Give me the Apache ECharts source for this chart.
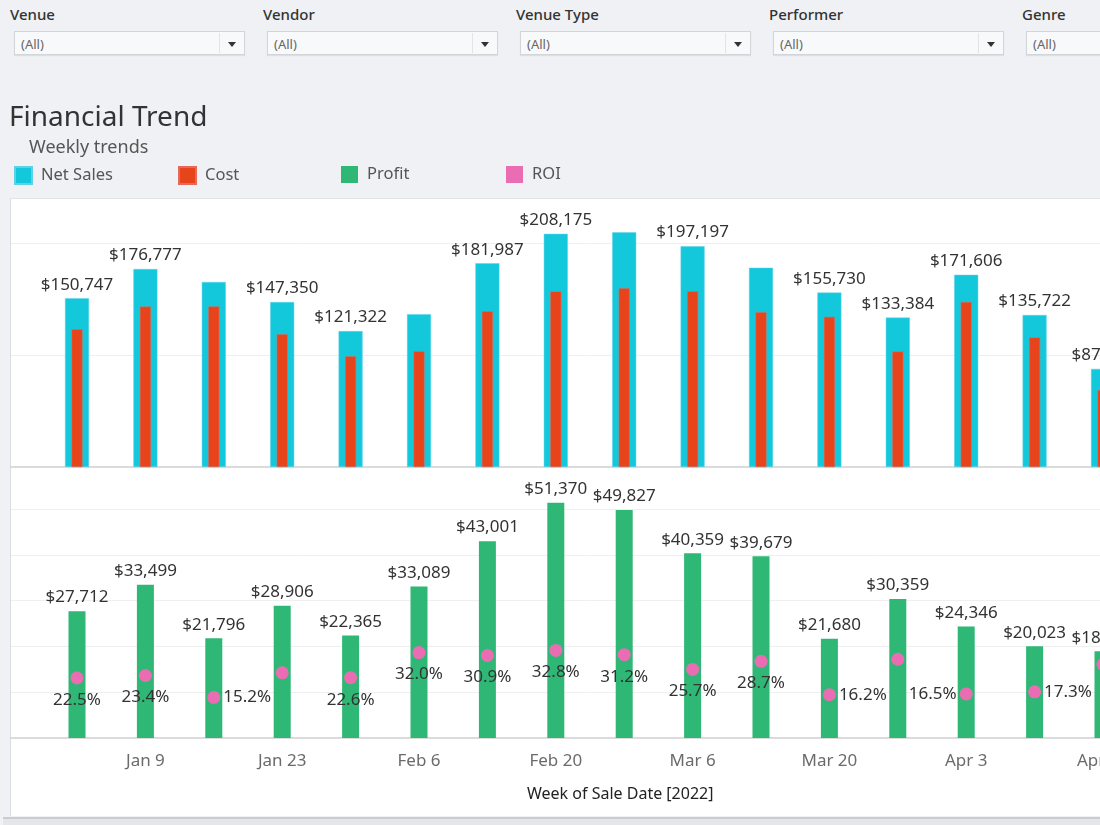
<!DOCTYPE html>
<html>
<head>
<meta charset="utf-8">
<script src="https://cdn.jsdelivr.net/npm/echarts@6/dist/echarts.min.js"></script>
<style>
  html, body { margin: 0; padding: 0; width: 1100px; height: 825px; overflow: hidden; background: #eff1f4; font-family: 'Noto Sans', sans-serif; }
  .flabel { position: absolute; top: 4px; font-size: 15px; color: #333; font-weight: 500; }
  .dd { position: absolute; top: 31px; width: 231px; height: 24px; background: #f8f9fa; border: 1px solid #d3d6d9; box-shadow: 0 1px 1px rgba(0,0,0,0.08); box-sizing: border-box; }
  .dd span { position: absolute; left: 6px; top: 3px; font-size: 13px; color: #666; }
  .dd .div { position: absolute; right: 24px; top: 1px; bottom: 1px; width: 1px; background: #e2e4e6; }
  .dd .arr { position: absolute; right: 8px; top: 10px; width: 0; height: 0; border-left: 4px solid transparent; border-right: 4px solid transparent; border-top: 5px solid #333; }
  #panel { position: absolute; left: 10px; top: 198px; width: 1200px; height: 617px; background: #fff; border-left: 1px solid #d9dde1; border-top: 1px solid #e1e4e7; }
  #scroll { position: absolute; left: 3px; top: 817px; width: 1200px; height: 10px; background: #e4e6e9; border-top: 2px solid #c9cdd1; }
  #chart { position: absolute; left: 0; top: 0; width: 1160px; height: 825px; }
</style>
</head>
<body>
<div class="flabel" style="left:10px">Venue</div>
<div class="dd" style="left:14px"><span>(All)</span><div class="div"></div><div class="arr"></div></div>
<div class="flabel" style="left:263px">Vendor</div>
<div class="dd" style="left:267px"><span>(All)</span><div class="div"></div><div class="arr"></div></div>
<div class="flabel" style="left:516px">Venue Type</div>
<div class="dd" style="left:520px"><span>(All)</span><div class="div"></div><div class="arr"></div></div>
<div class="flabel" style="left:769px">Performer</div>
<div class="dd" style="left:773px"><span>(All)</span><div class="div"></div><div class="arr"></div></div>
<div class="flabel" style="left:1022px">Genre</div>
<div class="dd" style="left:1026px"><span>(All)</span><div class="div"></div><div class="arr"></div></div>
<div id="panel"></div>
<div id="scroll"></div>
<div id="chart"></div>
<script>
const categories = ['Jan 2','Jan 9','Jan 16','Jan 23','Jan 30','Feb 6','Feb 13','Feb 20','Feb 27','Mar 6','Mar 13','Mar 20','Mar 27','Apr 3','Apr 10','Apr 17'];
const netSales = [150747,176777,165191,147350,121322,136492,181987,208175,209529,197197,177933,155730,133384,171606,135722,87600];
const cost = [123035,143278,143395,118444,98957,103403,138986,156805,159702,156838,138254,134050,103025,147260,115699,68650];
const profit = [27712,33499,21796,28906,22365,33089,43001,51370,49827,40359,39679,21680,30359,24346,20023,18950];
const roi = [22.5,23.4,15.2,24.4,22.6,32.0,30.9,32.8,31.2,25.7,28.7,16.2,29.5,16.5,17.3,27.6];
const netSalesHiddenLabels = [2,5,8,10];
const roiLabelPlacement = ['bottom','bottom','right',null,'bottom','bottom','bottom','bottom','bottom','bottom','bottom','right',null,'left','right',null];

const FONT = 'Noto Sans';
const money = v => '$' + Math.round(v).toLocaleString('en-US');

const C_NET = '#14c8dc', C_COST = '#e8441b', C_PROFIT = '#2fb875', C_ROI = '#ea6db4';

const chart = echarts.init(document.getElementById('chart'), null, { renderer: 'canvas' });

const gridLeft = 42.8, bandW = 68.4;
const gridW = bandW * categories.length;

const labelBase = { fontFamily: FONT, fontSize: 17, color: '#333' };
const legendText = { fontFamily: FONT, fontSize: 16.5, color: '#555', padding: [0,0,0,4] };
const hiddenValueX = (grid) => ({ type: 'value', gridIndex: grid, min: 0, max: 1, axisLine: { show: true, onZero: false, lineStyle: { color: '#cfcfcf', width: 1.5 } }, axisTick: { show: false }, axisLabel: { show: false }, splitLine: { show: false } });
const splitY = (grid, max, interval) => ({ type: 'value', gridIndex: grid, min: 0, max: max, interval: interval, axisLabel: { show: false }, axisLine: { show: false }, axisTick: { show: false },
  splitLine: { show: true, showMinLine: false, showMaxLine: false, lineStyle: { color: '#efefef', width: 1 } } });

const option = {
  animation: false,
  backgroundColor: 'transparent',
  textStyle: { fontFamily: FONT },
  title: [
    { text: 'Financial Trend', left: 9, top: 104, padding: 0, textStyle: { fontFamily: FONT, fontSize: 28, fontWeight: 'normal', color: '#333' } },
    { text: 'Weekly trends', left: 29, top: 139, padding: 0, textStyle: { fontFamily: FONT, fontSize: 18, fontWeight: 'normal', color: '#555' } }
  ],
  legend: [
    { left: 14, top: 166, padding: 0, icon: 'rect', itemWidth: 17, itemHeight: 17, data: ['Net Sales'], selectedMode: false, textStyle: legendText },
    { left: 178, top: 166, padding: 0, icon: 'rect', itemWidth: 17, itemHeight: 17, data: ['Cost'], selectedMode: false, textStyle: legendText },
    { left: 341, top: 166, padding: 0, icon: 'rect', itemWidth: 17, itemHeight: 17, data: ['Profit'], selectedMode: false, textStyle: legendText },
    { left: 506, top: 166, padding: 0, icon: 'rect', itemWidth: 17, itemHeight: 17, data: ['ROI'], selectedMode: false, textStyle: legendText }
  ],
  grid: [
    { left: gridLeft, top: 200, width: gridW, height: 267 },
    { left: gridLeft, top: 467, width: gridW, height: 271 },
    { left: 11, top: 200, right: 0, height: 267 },
    { left: 11, top: 467, right: 0, height: 271 }
  ],
  xAxis: [
    { type: 'category', gridIndex: 0, data: categories, axisLine: { show: false }, axisTick: { show: false }, axisLabel: { show: false } },
    { type: 'category', gridIndex: 0, data: categories, show: false },
    { type: 'category', gridIndex: 1, data: categories,
      axisLine: { show: false }, axisTick: { show: false },
      axisLabel: { interval: i => i % 2 === 1, fontFamily: FONT, fontSize: 17, color: '#6b6b6b', margin: 15 } },
    hiddenValueX(2),
    hiddenValueX(3)
  ],
  yAxis: [
    { type: 'value', gridIndex: 0, min: 0, max: 238400, show: false, splitLine: { show: false } },
    { type: 'value', gridIndex: 1, min: 0, max: 59200, show: false, splitLine: { show: false } },
    { type: 'value', gridIndex: 1, min: 0, max: 101.5, show: false, splitLine: { show: false } },
    splitY(2, 238400, 100000),
    splitY(3, 59200, 10000)
  ],
  series: [
    { name: 'Net Sales', type: 'bar', xAxisIndex: 0, yAxisIndex: 0, barWidth: 24,
      itemStyle: { color: C_NET, borderColor: '#5fd0ea', borderWidth: 0.5 },
      data: netSales.map((v, i) => ({ value: v, label: { show: !netSalesHiddenLabels.includes(i) } })),
      label: Object.assign({ show: true, position: 'top', distance: 5, formatter: p => money(p.value) }, labelBase) },
    { name: 'Cost', type: 'bar', xAxisIndex: 1, yAxisIndex: 0, barWidth: 11,
      itemStyle: { color: C_COST, borderColor: '#e66a5a', borderWidth: 0.5 },
      data: cost },
    { name: 'Profit', type: 'bar', xAxisIndex: 2, yAxisIndex: 1, barWidth: 17,
      itemStyle: { color: C_PROFIT },
      data: profit,
      label: Object.assign({ show: true, position: 'top', distance: 5, formatter: p => money(p.value) }, labelBase) },
    { name: 'ROI', type: 'scatter', xAxisIndex: 2, yAxisIndex: 2, symbol: 'circle', symbolSize: 13,
      itemStyle: { color: C_ROI, opacity: 1 }, z: 5,
      data: roi.map((v, i) => {
        const pos = roiLabelPlacement[i];
        return { value: v, label: { show: pos !== null, position: pos || 'bottom', distance: pos === 'bottom' ? 7 : 3 } };
      }),
      label: Object.assign({ show: true, formatter: p => p.value.toFixed(1) + '%' }, labelBase) }
  ],
  graphic: [
    { type: 'text', left: 527, top: 786, style: { text: 'Week of Sale Date [2022]', fontFamily: FONT, fontSize: 16, fill: '#222' } }
  ]
};
chart.setOption(option);
</script>
</body>
</html>
